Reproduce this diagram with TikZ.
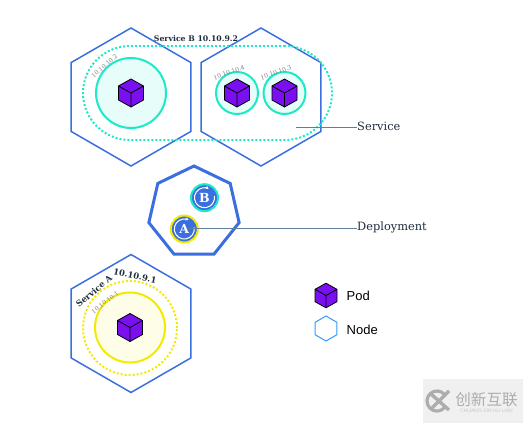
\documentclass[tikz,border=0pt]{standalone}
\usepackage{fontspec}
\setmainfont{DejaVu Serif}
\newfontfamily\legendfont{Liberation Sans}
\newfontfamily\cjkfont{Noto Sans CJK SC}
\usetikzlibrary{shapes.geometric,arrows.meta}
\definecolor{nodeblue}{HTML}{3B6FE0}
\definecolor{podcyan}{HTML}{1DE9C6}
\definecolor{podyellow}{HTML}{F2EA00}
\definecolor{podviolet}{HTML}{7A10F0}
\definecolor{inktext}{HTML}{1F2D3D}
\definecolor{leader}{HTML}{5F7F9A}
\tikzset{
  hexnode/.style={draw=nodeblue, line width=1.5pt, regular polygon, regular polygon sides=6, shape border rotate=30, minimum size=138pt, inner sep=0pt, outer sep=0pt},
  podb/.style={draw=podcyan, fill=podcyan!11, line width=2pt, circle, inner sep=0pt, outer sep=0pt},
  poda/.style={draw=podyellow, fill=podyellow!9, line width=2pt, circle, inner sep=0pt, outer sep=0pt, minimum size=70pt},
  badge/.style={circle, fill=nodeblue, line width=2pt, minimum size=27pt, inner sep=0pt, outer sep=0pt, text=white, font=\bfseries\fontsize{12.5}{13}\selectfont},
  iptext/.style={text=gray, inner sep=0pt, font=\fontsize{6}{6}\selectfont},
  svctext/.style={text=inktext, inner sep=0pt, font=\bfseries\fontsize{7.75}{8}\selectfont},
  labeltext/.style={text=inktext, inner sep=0pt, anchor=west, font=\fontsize{11.4}{12}\selectfont},
  legendtext/.style={text=black, inner sep=0pt, anchor=west, font=\legendfont\fontsize{13}{14}\selectfont},
  dotring/.style={line width=2pt, dash pattern=on 2pt off 2pt, inner sep=0pt, outer sep=0pt},
  podcube/.pic={
    \filldraw[fill=podviolet, draw=#1, line width=.8pt, line join=round] (0,-14) -- (12.5,-7) -- (12.5,7) -- (0,14) -- (-12.5,7) -- (-12.5,-7) -- cycle;
    \draw[#1, line width=.8pt] (-12.5,-7) -- (0,0) -- (12.5,-7) (0,0) -- (0,14);
  },
  podcube/.default={black!70!violet}
}
\begin{document}
\begin{tikzpicture}[x=1pt, y=-1pt]
\useasboundingbox (0,0) rectangle (523,423);
% nodes of service B
\node[hexnode] (hexone) at (131,97) {};
\node[hexnode] (hextwo) at (261,97) {};
\node[dotring, draw=podcyan, rounded corners=47pt, minimum width=249pt, minimum height=94pt] (svcb) at (207.5,93) {};
\node[svctext] (svcbtext) at (196,39) {Service B 10.10.9.2};
\node[podb, minimum size=70pt] (podtwo) at (131,93) {};
\node[podb, minimum size=42pt] (podfour) at (237,93) {};
\node[podb, minimum size=42pt] (podthree) at (284.5,93) {};
\pic at (podtwo) {podcube};
\pic at (podfour) {podcube};
\pic at (podthree) {podcube};
\node[iptext, rotate=42] (iptwo) at (104.5,66) {10.10.10.2};
\node[iptext, rotate=20] (ipfour) at (229,72.5) {10.10.10.4};
\node[iptext, rotate=20] (ipthree) at (276,72.5) {10.10.10.3};
% deployment
\node[draw=nodeblue, line width=3pt, regular polygon, regular polygon sides=7, minimum size=92.6pt, inner sep=0pt, outer sep=0pt] (deploy) at (194,212.3) {};
\node[badge, draw=podcyan] (depb) at (204.5,197.7) {B};
\node[badge, draw=podyellow] (depa) at (184.3,229) {A};
\foreach \badgename in {depa,depb}{
  \draw[white, line width=1pt, -{Stealth[length=3pt,width=3.5pt]}] (\badgename.center) ++(10:10pt) arc (10:-295:10pt);
}
% service A
\node[hexnode] (hexthree) at (131,323.5) {};
\node[dotring, draw=podyellow, circle, minimum size=94pt] (svca) at (130,328) {};
\node[poda] (podone) at (130,327.5) {};
\pic at (podone) {podcube};
\node[iptext, rotate=38] (ipone) at (105,302.5) {10.10.10.1};
\node[svctext, font=\bfseries\fontsize{8.4}{9}\selectfont, rotate=40] (svcatext) at (94,291) {Service A};
\node[svctext, font=\bfseries\fontsize{8.4}{9}\selectfont, rotate=-12] (svcaip) at (135,276) {10.10.9.1};
% labels
\coordinate (svcend) at (296,127);
\coordinate (depend) at (188,228);
\node[labeltext] (svclabel) at (357,126) {Service};
\node[labeltext] (deplabel) at (357,227.5) {Deployment};
\draw[leader, line width=.6pt] (svcend) -- (svclabel.west |- svcend);
\draw[leader, line width=.6pt] (depend) -- (deplabel.west |- depend);
% legend
\pic[scale=.88] at (326,295.5) {podcube=black};
\node[draw={rgb,255:red,51;green,153;blue,255}, line width=1pt, regular polygon, regular polygon sides=6, shape border rotate=30, minimum size=25pt, inner sep=0pt, outer sep=0pt] (legendhex) at (326,328.5) {};
\node[legendtext] (legendpod) at (346.5,296) {Pod};
\node[legendtext] (legendnode) at (346.5,330) {Node};
% watermark
\fill[black!6] (423,379) rectangle (523,423);
\draw[black!32, line width=3.2pt] (437,401) ++(40:10pt) arc (40:320:10pt);
\draw[black!32, line width=3.4pt] (431,394) -- (449,410) (449,391) -- (432,408);
\node[text=black!32, inner sep=0pt, font=\cjkfont\fontsize{15.6}{16}\selectfont] (wmark) at (486.5,400) {创新互联};
\node[text=black!22, inner sep=0pt, font=\legendfont\fontsize{5}{5}\selectfont] (wmarken) at (486.5,410.5) {CHUANG XIN HU LIAN};
\end{tikzpicture}
\end{document}
